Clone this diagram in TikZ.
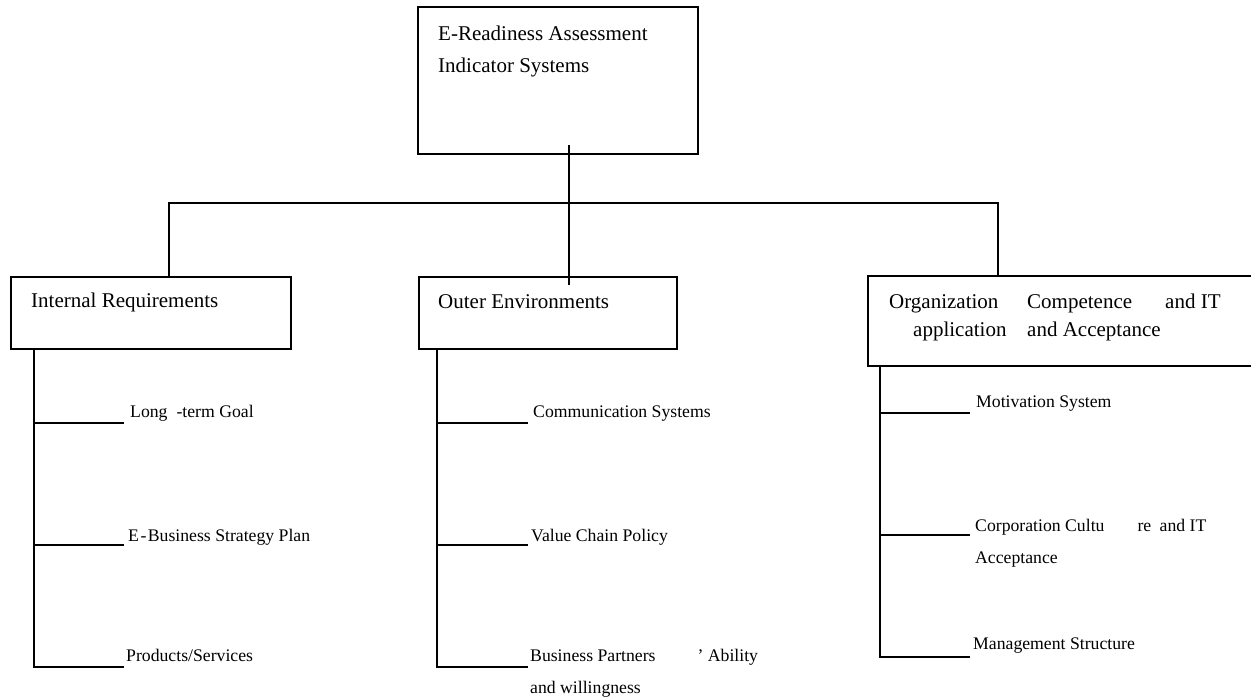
\documentclass[tikz,border=0pt]{standalone}
\usepackage{fontspec}
\setmainfont{Liberation Serif}
\begin{document}
\begin{tikzpicture}[x=1pt,y=-1pt,
  box/.style={draw, line width=1.8pt, rectangle, inner sep=0pt},
  conn/.style={line width=1.8pt},
  bigtxt/.style={font=\fontsize{21}{25}\selectfont, anchor=base west, inner sep=0pt},
  smalltxt/.style={font=\fontsize{17.7}{21}\selectfont, anchor=base west, inner sep=0pt}]
\useasboundingbox (0,0) rectangle (1251,700);
\clip (0,0) rectangle (1251,700);
% boxes
\node[box, minimum width=280pt, minimum height=147pt] (top) at (558,80.5) {};
\node[box, minimum width=280pt, minimum height=72pt] (ir) at (151,313) {};
\node[box, minimum width=258pt, minimum height=72pt] (oe) at (548,313) {};
\node[box, minimum width=394pt, minimum height=90pt] (org) at (1065,321) {};
% box texts
\node[bigtxt] (t1) at (438,41) {E-Readiness Assessment};
\node[bigtxt] (t2) at (438,73) {Indicator Systems};
\node[bigtxt] (irt) at (31,308) {Internal Requirements};
\node[bigtxt] (oet) at (438,309) {Outer Environments};
\node[bigtxt] (o1) at (889,309) {Organization};
\node[bigtxt] (o2) at (1027,309) {Competence};
\node[bigtxt] (o3) at (1165,309) {and IT};
\node[bigtxt] (o4) at (913,337) {application};
\node[bigtxt] (o5) at (1027,337) {and Acceptance};
% top connectors
\coordinate (tA) at (569,145);
\coordinate (tB) at (569,285);
\draw[conn] (tA) -- (tB);
\coordinate (barL) at (169,203);
\coordinate (barR) at (998,203);
\draw[conn] (barL |- ir.north) -- (barL) -- (barR) -- (barR |- org.north);
% left branch
\coordinate (lt) at (34,667);
\coordinate (l1) at (124,423);
\coordinate (l2) at (124,545);
\coordinate (l3) at (124,667);
\draw[conn] (ir.south -| lt) -- (lt) -- (l3);
\draw[conn] (l1 -| lt) -- (l1);
\draw[conn] (l2 -| lt) -- (l2);
\node[smalltxt] (lt1) at (130,418) {Long\hspace{9pt}-term Goal};
\node[smalltxt] (lt2) at (128,541) {E\hspace{1.5pt}-\hspace{1.5pt}Business Strategy Plan};
\node[smalltxt] (lt3) at (126,661) {Products/Services};
% middle branch
\coordinate (mt) at (437,667);
\coordinate (m1) at (528,423);
\coordinate (m2) at (528,545);
\coordinate (m3) at (528,667);
\draw[conn] (oe.south -| mt) -- (mt) -- (m3);
\draw[conn] (m1 -| mt) -- (m1);
\draw[conn] (m2 -| mt) -- (m2);
\node[smalltxt] (mt1) at (533,418) {Communication Systems};
\node[smalltxt] (mt2) at (531,541) {Value Chain Policy};
\node[smalltxt] (mt3) at (530,661) {Business Partners\hspace{42pt}’ Ability};
\node[smalltxt] (mt4) at (530,693) {and willingness};
% right branch
\coordinate (rt) at (880,657);
\coordinate (r1) at (970,413);
\coordinate (r2) at (970,535);
\coordinate (r3) at (970,657);
\draw[conn] (org.south -| rt) -- (rt) -- (r3);
\draw[conn] (r1 -| rt) -- (r1);
\draw[conn] (r2 -| rt) -- (r2);
\node[smalltxt] (rt1) at (976,408) {Motivation System};
\node[smalltxt] (rt2) at (975,532) {Corporation Cultu\hspace{33pt}re\hspace{4pt} and IT};
\node[smalltxt] (rt3) at (975,563) {Acceptance};
\node[smalltxt] (rt4) at (973,649) {Management Structure};
\end{tikzpicture}
\end{document}
